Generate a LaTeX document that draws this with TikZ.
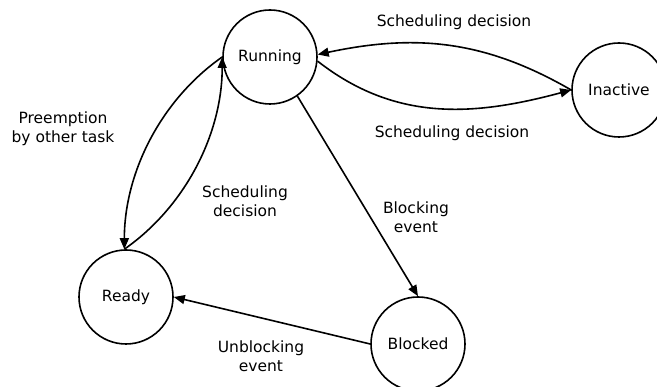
\documentclass[tikz,border=0pt]{standalone}
\usepackage{fontspec}
\setmainfont{DejaVu Sans}
\usetikzlibrary{arrows.meta}

\begin{document}
\begin{tikzpicture}[x=1pt, y=-1pt,
  state/.style={circle, draw, line width=1.6pt, minimum size=94pt, inner sep=0pt,
                font=\fontsize{15.5}{19}\selectfont},
  lbl/.style={align=center, font=\fontsize{15.5}{19}\selectfont},
  trans/.style={line width=1.6pt, -{Triangle[length=11pt,width=9pt]}}]
  \useasboundingbox (0,0) rectangle (657,387);
  \begin{scope}
  \clip (0,0) rectangle (657,387);

  % states
  \node[state] (run)   at (270,57)  {Running};
  \node[state] (inact) at (619,90)  {Inactive};
  \node[state] (ready) at (126,297) {Ready};
  \node[state] (block) at (418,344) {Blocked};

  % transitions
  \draw[trans] (inact.180) to[out=150, in=12, looseness=1.0] (run.3);
  \draw[trans] (run.-5) to[out=-38, in=195, looseness=1.0] (inact.180);
  \draw[trans] (run.180) to[out=215, in=90, looseness=0.9] (ready.92);
  \draw[trans] (ready.92) to[out=35, in=270, looseness=0.9] (run.180);
  \draw[trans] (run.-55) -- (block.90);
  \draw[trans] (block.180) -- (ready.0);

  % labels
  \node[lbl] (l1) at (454,22)  {Scheduling decision};
  \node[lbl] (l2) at (452,133) {Scheduling decision};
  \node[lbl] (l3) at (63,129)  {Preemption\\by other task};
  \node[lbl] (l4) at (245,201) {Scheduling\\decision};
  \node[lbl] (l5) at (416,217) {Blocking\\event};
  \node[lbl] (l6) at (261,356) {Unblocking\\event};
  \end{scope}
\end{tikzpicture}
\end{document}
